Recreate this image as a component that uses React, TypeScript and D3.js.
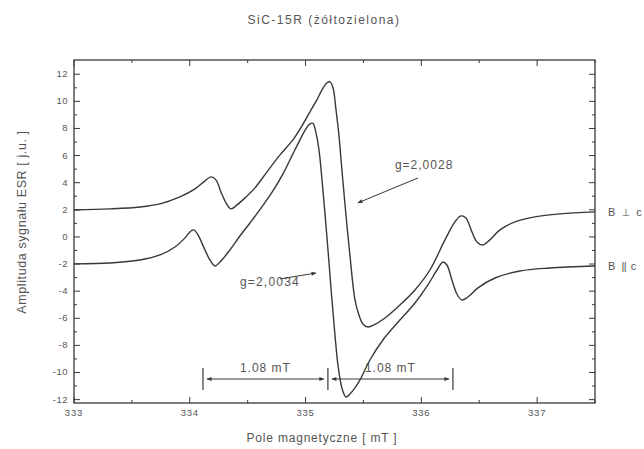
import React from "react";
import * as d3 from "d3";

const title = "SiC-15R (żółtozielona)";
const xLabel = "Pole magnetyczne [ mT ]";
const yLabel = "Amplituda sygnału ESR [ j.u. ]";

const xTickValues = [333, 334, 335, 336, 337];
const yTickValues = [-12, -10, -8, -6, -4, -2, 0, 2, 4, 6, 8, 10, 12];

const perpField = [333.0, 333.311, 333.57, 333.743, 333.915, 334.045, 334.131, 334.183, 334.226, 334.269, 334.313, 334.356, 334.408, 334.477, 334.563, 334.667, 334.779, 334.891, 334.969, 335.038, 335.098, 335.142, 335.185, 335.211, 335.237, 335.263, 335.288, 335.314, 335.349, 335.383, 335.427, 335.461, 335.496, 335.539, 335.591, 335.686, 335.815, 335.945, 336.074, 336.204, 336.29, 336.342, 336.385, 336.437, 336.48, 336.532, 336.592, 336.679, 336.808, 336.981, 337.197, 337.5];
const perpAmp = [1.99, 2.07, 2.21, 2.44, 2.95, 3.54, 4.13, 4.43, 4.21, 3.32, 2.51, 2.07, 2.36, 2.88, 3.62, 4.8, 6.05, 7.16, 8.19, 9.23, 10.11, 10.85, 11.37, 11.44, 11.0, 9.37, 7.53, 4.94, 1.62, -1.33, -4.65, -5.76, -6.42, -6.64, -6.49, -5.98, -5.02, -3.91, -2.44, -0.22, 1.11, 1.55, 1.4, 0.37, -0.37, -0.59, -0.22, 0.52, 1.11, 1.48, 1.7, 1.85];

const parField = [333.0, 333.311, 333.57, 333.743, 333.872, 333.959, 334.01, 334.036, 334.071, 334.123, 334.174, 334.218, 334.261, 334.347, 334.433, 334.52, 334.623, 334.718, 334.805, 334.891, 334.952, 335.003, 335.038, 335.064, 335.09, 335.116, 335.142, 335.176, 335.202, 335.228, 335.254, 335.28, 335.314, 335.349, 335.383, 335.427, 335.47, 335.556, 335.668, 335.815, 335.945, 336.057, 336.135, 336.187, 336.221, 336.264, 336.307, 336.351, 336.402, 336.489, 336.636, 336.852, 337.111, 337.5];
const parAmp = [-1.99, -1.92, -1.7, -1.33, -0.74, -0.07, 0.44, 0.52, 0.15, -0.81, -1.7, -2.14, -1.85, -0.96, 0.07, 1.03, 2.21, 3.39, 4.65, 6.13, 7.16, 7.97, 8.34, 8.38, 7.68, 6.42, 4.21, 0.89, -1.85, -4.65, -7.23, -9.45, -11.14, -11.81, -11.59, -11.14, -10.55, -9.08, -7.6, -6.13, -4.87, -3.54, -2.44, -1.85, -2.07, -3.17, -4.21, -4.65, -4.43, -3.76, -3.03, -2.51, -2.29, -2.14];

const seriesNames = [["B ", "⊥", " c"], ["B ", "||", " c"]];

// annotations (data coords)
const spacingBars = [334.114, 335.193, 336.273];
const spacingLabel = "1.08 mT";
const gLabels = ["g=2,0028", "g=2,0034"];

const W = 644, H = 449;
const M = { left: 74, top: 60, right: 595, bottom: 403 };
const FONT = "'Liberation Sans', Arial, sans-serif";
const SYM = "'DejaVu Sans', sans-serif";
const INK = "#383838";
const TXT = "#555";

export default function App() {
  const x = d3.scaleLinear().domain([333, 337.5]).range([M.left, M.right]);
  const y = d3.scaleLinear().domain([-12.25, 13.05]).range([M.bottom, M.top]);

  const line = d3
    .line<[number, number]>()
    .x((d) => x(d[0]))
    .y((d) => y(d[1]))
    .curve(d3.curveCatmullRom.alpha(0.5));

  const perp = perpField.map((f, i) => [f, perpAmp[i]] as [number, number]);
  const par = parField.map((f, i) => [f, parAmp[i]] as [number, number]);

  const xMinor = d3.range(333, 337.51, 0.5);
  const yMinor = d3.range(-12, 12.01, 1);

  const barTop = y(-9.67), barBot = y(-11.29), arrY = y(-10.48);
  const ends = [perpAmp[perpAmp.length - 1], parAmp[parAmp.length - 1]];

  return (
    <svg width={W} height={H} style={{ position: "absolute", left: 0, top: 0, background: "#fff" }}>
      <defs>
        <marker id="ah" viewBox="0 0 10 10" refX="9" refY="5" markerWidth="8" markerHeight="5" orient="auto-start-reverse" markerUnits="userSpaceOnUse">
          <path d="M0,1 L10,5 L0,9 Z" fill={INK} />
        </marker>
      </defs>
      <text x={324} y={24} textAnchor="middle" fontFamily={FONT} fontSize={12} letterSpacing={1.5} fill={TXT}>{title}</text>

      {/* frame */}
      <rect x={M.left} y={M.top} width={M.right - M.left} height={M.bottom - M.top} fill="none" stroke={INK} strokeWidth={1.3} />

      {/* x ticks */}
      {xMinor.map((v) => {
        const major = Math.abs(v - Math.round(v)) < 1e-6;
        const len = major ? 6 : 3;
        return (
          <g key={"xt" + v}>
            <line x1={x(v)} x2={x(v)} y1={M.bottom} y2={M.bottom - len} stroke={INK} strokeWidth={1} />
            <line x1={x(v)} x2={x(v)} y1={M.top} y2={M.top + len} stroke={INK} strokeWidth={1} />
          </g>
        );
      })}
      {xTickValues.map((v) => (
        <text key={"xl" + v} x={x(v)} y={M.bottom + 13} textAnchor="middle" fontFamily={FONT} fontSize={9.5} letterSpacing={0.8} fill={TXT}>{v}</text>
      ))}

      {/* y ticks */}
      {yMinor.map((v) => {
        const major = Math.round(v) % 2 === 0;
        const len = major ? 6 : 3;
        return (
          <g key={"yt" + v}>
            <line x1={M.left} x2={M.left + len} y1={y(v)} y2={y(v)} stroke={INK} strokeWidth={1} />
            <line x1={M.right} x2={M.right - len} y1={y(v)} y2={y(v)} stroke={INK} strokeWidth={1} />
          </g>
        );
      })}
      {yTickValues.map((v) => (
        <text key={"yl" + v} x={M.left - 6} y={y(v) + 3} textAnchor="end" fontFamily={FONT} fontSize={9.5} letterSpacing={0.5} fill={TXT}>{v}</text>
      ))}

      <text x={322} y={442} textAnchor="middle" fontFamily={FONT} fontSize={12} letterSpacing={0.8} fill={TXT}>{xLabel}</text>
      <text transform={`translate(26,222) rotate(-90)`} textAnchor="middle" fontFamily={FONT} fontSize={12.5} letterSpacing={0.6} fill={TXT}>{yLabel}</text>

      {/* curves */}
      <path d={line(perp) || ""} fill="none" stroke={INK} strokeWidth={1.4} />
      <path d={line(par) || ""} fill="none" stroke={INK} strokeWidth={1.4} />

      {/* series labels */}
      {seriesNames.map((parts, i) => (
        <text key={"sn" + i} x={608} y={y(ends[i]) + 4} fontFamily={FONT} fontSize={11} letterSpacing={1.5} fill={TXT}>
          {parts[0]}
          <tspan fontFamily={i === 0 ? SYM : FONT} fontSize={i === 0 ? 10 : 11} letterSpacing={i === 0 ? 1.5 : -0.5}>{parts[1]}</tspan>
          <tspan letterSpacing={1.5}>{parts[2]}</tspan>
        </text>
      ))}

      {/* g labels */}
      <text x={x(335.772)} y={y(5.02)} fontFamily={FONT} fontSize={12} letterSpacing={1} fill={TXT}>{gLabels[0]}</text>
      <line x1={x(335.971)} y1={y(4.35)} x2={x(335.452)} y2={y(2.51)} stroke={INK} strokeWidth={1} markerEnd="url(#ah)" />
      <text x={x(334.433)} y={y(-3.6)} fontFamily={FONT} fontSize={12} letterSpacing={1.2} fill={TXT}>{gLabels[1]}</text>
      <line x1={x(334.78)} y1={y(-3.1)} x2={x(335.09)} y2={y(-2.66)} stroke={INK} strokeWidth={1} markerEnd="url(#ah)" />

      {/* spacing bars */}
      {spacingBars.map((b) => (
        <line key={"b" + b} x1={x(b)} x2={x(b)} y1={barTop} y2={barBot} stroke={INK} strokeWidth={1.2} />
      ))}
      {[0, 1].map((i) => (
        <g key={"sp" + i}>
          <line x1={x(spacingBars[i]) + 4} x2={x(spacingBars[i + 1]) - 4} y1={arrY} y2={arrY} stroke={INK} strokeWidth={1} markerStart="url(#ah)" markerEnd="url(#ah)" />
          <text x={(x(spacingBars[i]) + x(spacingBars[i + 1])) / 2} y={arrY - 7} textAnchor="middle" fontFamily={FONT} fontSize={12} letterSpacing={1} fill={TXT}>{spacingLabel}</text>
        </g>
      ))}
    </svg>
  );
}
